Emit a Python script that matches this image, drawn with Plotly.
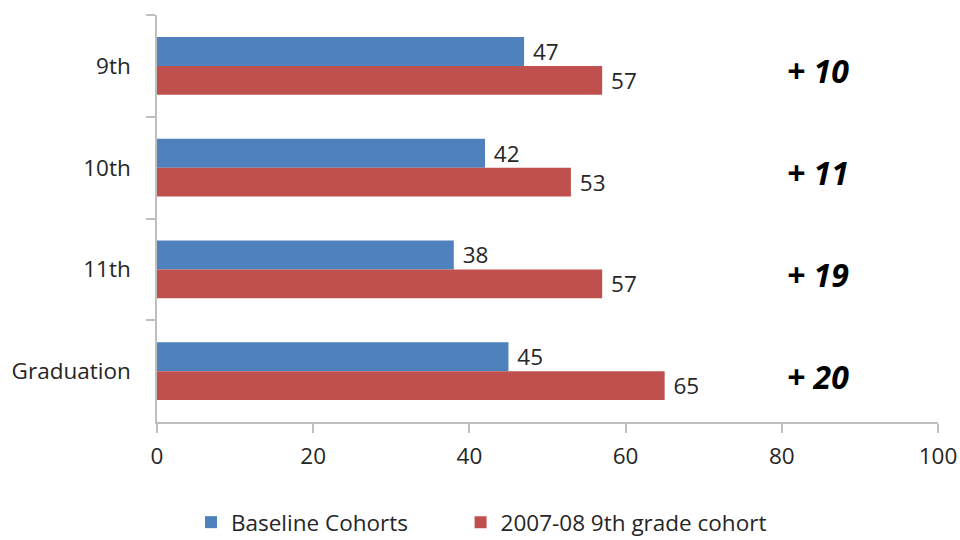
import plotly.graph_objects as go

# Category labels and series values
stages = ["9th", "10th", "11th", "Graduation"]
baseline = [47, 42, 38, 45]
cohort_0708 = [57, 53, 57, 65]
series_names = ["Baseline Cohorts", "2007-08 9th grade cohort"]
x_ticks = [0, 20, 40, 60, 80, 100]

BLUE = "#4F81BD"
RED = "#C0504D"
AXIS = "#BFBFBF"
TEXT = "#262626"
FONT = "Open Sans"
FS = 22.5

fig = go.Figure()
for name, vals, col, leg in [(series_names[0], baseline, BLUE, "legend"),
                             (series_names[1], cohort_0708, RED, "legend2")]:
    fig.add_trace(go.Bar(
        y=stages, x=vals, name=name, orientation="h", legend=leg,
        showlegend=True,
        marker=dict(color=col, line=dict(width=0)),
        text=vals, texttemplate=" %{x}", textposition="outside",
        textfont=dict(family=FONT, size=FS, color=TEXT),
        constraintext="none", cliponaxis=False,
    ))

# Gain of the 2007-08 cohort over the baseline, written beside each stage
for stage, b, c in zip(stages, baseline, cohort_0708):
    fig.add_annotation(
        x=84.6, y=stage, xref="x", yref="y",
        text=f"<b><i>+ {c - b}</i></b>", showarrow=False, yshift=-5,
        font=dict(family=FONT, size=32, color="#000000"),
    )

legend_style = dict(orientation="h", yanchor="middle", y=-0.247, xanchor="left",
                    font=dict(family=FONT, size=FS, color=TEXT),
                    bgcolor="rgba(0,0,0,0)")

fig.update_layout(
    width=960, height=540, showlegend=True,
    margin=dict(l=157, r=22, t=15, b=118, autoexpand=False),
    paper_bgcolor="white", plot_bgcolor="white",
    barmode="group", bargap=0.43, bargroupgap=0,
    font=dict(family=FONT, size=FS, color=TEXT),
    legend=dict(x=0.0435, **legend_style),
    legend2=dict(x=0.3887, **legend_style),
    xaxis=dict(
        range=[0, 100], tickvals=x_ticks, showgrid=False, zeroline=False,
        showline=True, linecolor=AXIS, linewidth=1.5,
        ticks="outside", ticklen=9, tickcolor=AXIS, tickwidth=1.5,
        ticklabelstandoff=4,
        tickfont=dict(family=FONT, size=FS, color=TEXT),
    ),
    yaxis=dict(
        categoryorder="array", categoryarray=stages, autorange="reversed",
        showgrid=False, zeroline=False,
        showline=True, linecolor=AXIS, linewidth=1.5,
        ticks="outside", ticklen=9, tickcolor=AXIS, tickwidth=1.5,
        tickson="boundaries", ticklabelstandoff=20,
        tickfont=dict(family=FONT, size=FS, color=TEXT),
    ),
)

fig.write_html("out.html")
